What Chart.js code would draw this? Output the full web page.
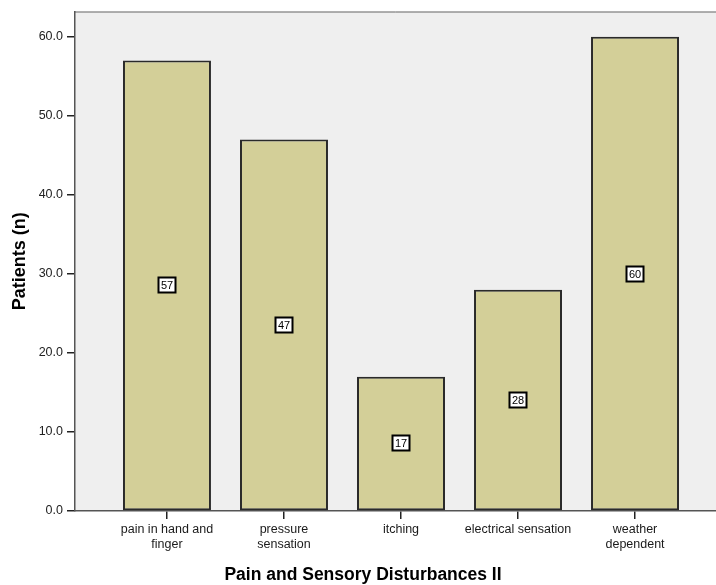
<!DOCTYPE html>
<html>
<head>
<meta charset="utf-8">
<title>Pain and Sensory Disturbances II</title>
<script src="https://cdn.jsdelivr.net/npm/chart.js@4"></script>
<style>
  html, body { margin: 0; padding: 0; background: #fff; }
  canvas { display: block; }
</style>
</head>
<body>
<canvas id="painChart" width="716" height="585"></canvas>
<script>
// ---- data ----
const categories = [
  ["pain in hand and", "finger"],
  ["pressure", "sensation"],
  "itching",
  "electrical sensation",
  ["weather", "dependent"],
];
const patients = [57, 47, 17, 28, 60];
const yTicks = [0, 10, 20, 30, 40, 50, 60];
const xTitle = "Pain and Sensory Disturbances II";
const yTitle = "Patients (n)";

// ---- plot background + value boxes + x title ----
const plotBg = {
  id: "plotBg",
  beforeDraw(chart) {
    const { ctx, chartArea: a } = chart;
    ctx.save();
    ctx.fillStyle = "#efefef";
    ctx.fillRect(a.left, a.top, a.right - a.left, a.bottom - a.top);
    ctx.strokeStyle = "#666";
    ctx.lineWidth = 1;
    ctx.beginPath();
    ctx.moveTo(a.left, a.top + 0.5);
    ctx.lineTo(a.right, a.top + 0.5);
    ctx.stroke();
    ctx.restore();
  },
};

const valueBoxes = {
  id: "valueBoxes",
  afterDatasetsDraw(chart) {
    const { ctx } = chart;
    const meta = chart.getDatasetMeta(0);
    ctx.save();
    ctx.font = "11px 'Liberation Sans', Arial, sans-serif";
    ctx.textAlign = "center";
    ctx.textBaseline = "middle";
    meta.data.forEach((bar, i) => {
      const txt = String(patients[i]);
      const cx = Math.round(bar.x);
      const cy = Math.round((bar.y + bar.base) / 2);
      const w = Math.round(ctx.measureText(txt).width) + 5;
      const h = 15;
      ctx.fillStyle = "#fff";
      ctx.fillRect(cx - w / 2, cy - h / 2, w, h);
      ctx.strokeStyle = "#000";
      ctx.lineWidth = 2;
      ctx.strokeRect(cx - w / 2, cy - h / 2, w, h);
      ctx.fillStyle = "#000";
      ctx.fillText(txt, cx, cy + 0.5);
    });
    ctx.restore();
  },
};

const xTitlePlugin = {
  id: "xTitlePlugin",
  afterDraw(chart) {
    const { ctx } = chart;
    ctx.save();
    ctx.font = "bold 17.5px 'Liberation Sans', Arial, sans-serif";
    ctx.fillStyle = "#000";
    ctx.textAlign = "center";
    ctx.textBaseline = "middle";
    ctx.fillText(xTitle, 363, 575);
    ctx.restore();
  },
};

// ---- chart ----
Chart.defaults.font.family = "'Liberation Sans', Arial, sans-serif";

new Chart(document.getElementById("painChart"), {
  type: "bar",
  data: {
    datasets: [
      {
        data: patients.map((v, i) => ({ x: i, y: v })),
        backgroundColor: "#d3cf98",
        borderColor: "#2a2a2a",
        borderWidth: 2,
        borderSkipped: false,
        categoryPercentage: 1,
        barPercentage: 0.752,
      },
    ],
  },
  options: {
    responsive: false,
    animation: false,
    devicePixelRatio: 1,
    layout: { padding: { top: 11, right: 0, left: 0, bottom: 0 } },
    plugins: {
      legend: { display: false },
      tooltip: { enabled: false },
    },
    scales: {
      x: {
        type: "linear",
        offset: false,
        min: -0.786,
        max: 4.692,
        afterBuildTicks: s => { s.ticks = categories.map((c, i) => ({ value: i })); },
        afterFit: s => { s.height = 74; },
        grid: { offset: false, drawOnChartArea: false, drawTicks: true, tickLength: 8, color: "#222", lineWidth: 1.5 },
        border: { display: true, color: "#555", width: 1.5 },
        ticks: {
          autoSkip: false,
          maxRotation: 0,
          padding: 3,
          color: "#1a1a1a",
          font: { size: 12.5 },
          callback: v => categories[v],
        },
      },
      y: {
        min: 0,
        max: 63.2,
        afterBuildTicks: s => { s.ticks = yTicks.map(v => ({ value: v })); },
        afterFit: s => { s.width = 75; },
        grid: { drawOnChartArea: false, drawTicks: true, tickLength: 8, color: "#222", lineWidth: 1.5 },
        border: { display: true, color: "#555", width: 1.5 },
        ticks: {
          padding: 4,
          color: "#222",
          font: { size: 12.5 },
          callback: v => v.toFixed(1),
        },
        title: {
          display: true,
          text: yTitle,
          color: "#000",
          font: { size: 18, weight: "bold" },
          padding: { top: 9, bottom: 0 },
        },
      },
    },
  },
  plugins: [plotBg, valueBoxes, xTitlePlugin],
});
</script>
</body>
</html>
